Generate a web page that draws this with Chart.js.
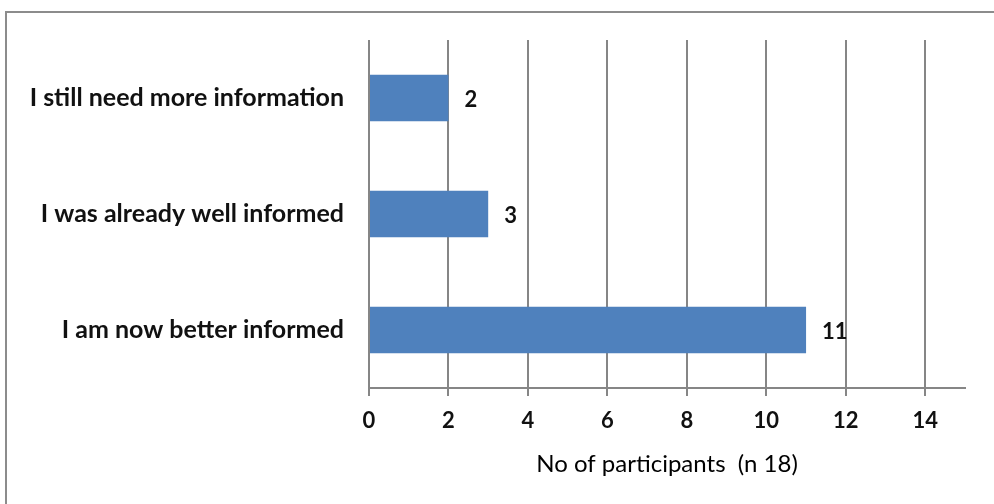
<!DOCTYPE html>
<html>
<head>
<meta charset="utf-8">
<script src="https://cdn.jsdelivr.net/npm/chart.js@4"></script>
<style>
  html, body { margin: 0; padding: 0; background: #fff; overflow: hidden; }
  #wrap { position: relative; width: 994px; height: 504px; }
  #frame { position: absolute; left: 5px; top: 11px; width: 1100px; height: 600px;
           border: 2px solid #8c8c8c; box-sizing: border-box; }
  canvas { position: absolute; left: 0; top: 0; }
</style>
</head>
<body>
<div id="wrap">
  <div id="frame"></div>
  <canvas id="infoChart" width="994" height="504"></canvas>
</div>
<script>
const answers = ['I still need more information', 'I was already well informed', 'I am now better informed'];
const participants = [2, 3, 11];
const axisTitle = 'No of participants  (n 18)';

const FONT = 'Lato, "Liberation Sans", sans-serif';

// value labels to the right of each bar
const barValues = {
  id: 'barValues',
  afterDatasetsDraw(chart) {
    const c = chart.ctx;
    const meta = chart.getDatasetMeta(0);
    c.save();
    c.font = 'bold 22px ' + FONT;
    c.fillStyle = '#111';
    c.textAlign = 'left';
    c.textBaseline = 'middle';
    meta.data.forEach((bar, i) => {
      c.fillText(String(participants[i]), bar.x + 16, bar.y + 2);
    });
    c.restore();
  }
};

const ctx = document.getElementById('infoChart');
const myChart = new Chart(ctx, {
  type: 'bar',
  data: {
    labels: answers,
    datasets: [{
      data: participants,
      backgroundColor: '#4f81bd',
      borderWidth: 0,
      categoryPercentage: 1,
      barPercentage: 0.4
    }]
  },
  options: {
    indexAxis: 'y',
    responsive: false,
    animation: false,
    events: [],
    layout: { padding: { top: 40, right: 29, left: 0, bottom: 0 } },
    plugins: {
      legend: { display: false },
      tooltip: { enabled: false }
    },
    scales: {
      x: {
        min: 0,
        max: 15,
        grid: { color: '#868686', lineWidth: 2, tickLength: 8, drawTicks: true },
        border: { color: '#868686', width: 2 },
        ticks: {
          stepSize: 2,
          includeBounds: false,
          padding: 12,
          color: '#111',
          font: { family: FONT, size: 22, weight: 'bold' }
        },
        title: {
          display: true,
          text: axisTitle,
          color: '#000',
          font: { family: FONT, size: 24, weight: 'normal' },
          padding: { top: 0, bottom: 25 }
        },
        afterFit(scale) { scale.height = 116; }
      },
      y: {
        grid: { display: false, drawTicks: false },
        border: { display: false },
        ticks: {
          padding: 25,
          color: '#111',
          font: { family: FONT, size: 25, weight: 'bold' }
        },
        afterFit(scale) { scale.width = 369; }
      }
    }
  },
  plugins: [barValues]
});
</script>
</body>
</html>
